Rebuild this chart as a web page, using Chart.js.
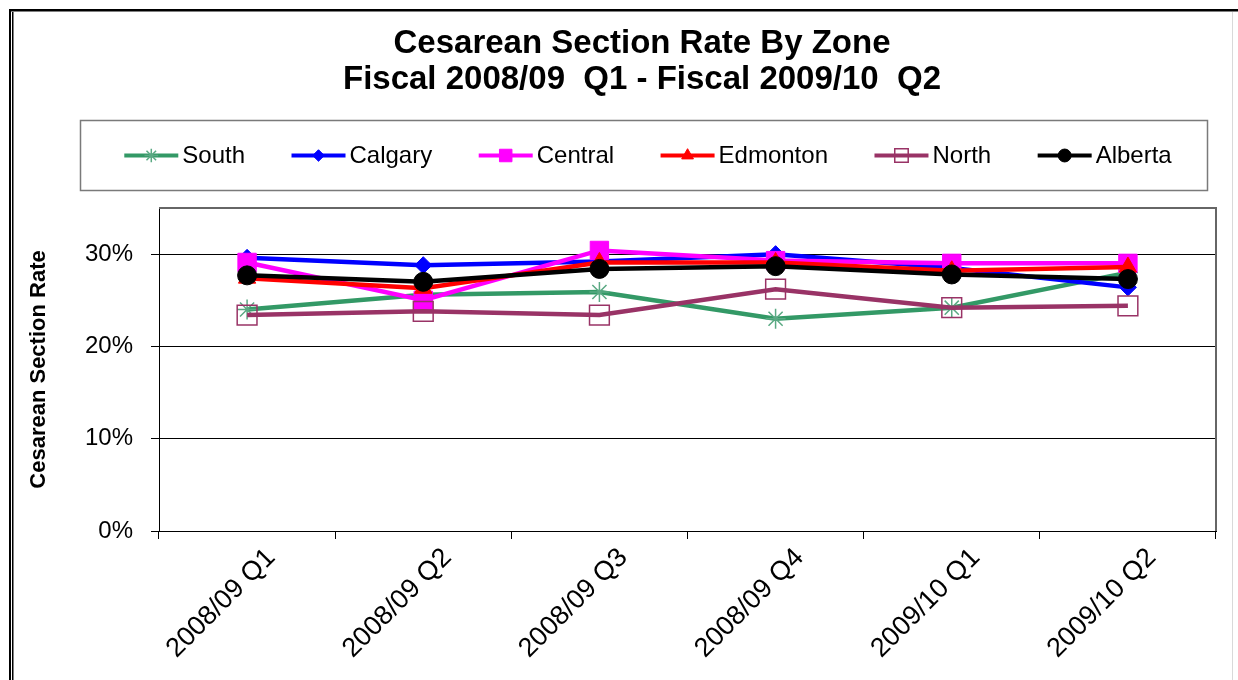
<!DOCTYPE html>
<html>
<head>
<meta charset="utf-8">
<title>Cesarean Section Rate By Zone</title>
<script src="https://cdn.jsdelivr.net/npm/chart.js@4/dist/chart.umd.min.js"></script>
<style>
  html, body { margin: 0; padding: 0; background: #fff; }
  #wrap { position: relative; width: 1238px; height: 680px; }
</style>
</head>
<body>
<div id="wrap"><canvas id="chart" width="1238" height="680"></canvas></div>
<script>
// Fiscal quarters on the category axis
const quarters = ['2008/09 Q1', '2008/09 Q2', '2008/09 Q3', '2008/09 Q4', '2009/10 Q1', '2009/10 Q2'];

// Cesarean section rate (%) per zone and quarter
const south    = [24.0, 25.6, 25.9, 23.0, 24.2, 28.0];
const calgary  = [29.6, 28.8, 29.2, 30.0, 28.5, 26.4];
const central  = [29.1, 25.0, 30.4, 29.3, 29.0, 29.0];
const edmonton = [27.4, 26.3, 29.1, 29.1, 28.2, 28.6];
const north    = [23.4, 23.8, 23.4, 26.2, 24.2, 24.4];
const alberta  = [27.7, 27.0, 28.4, 28.7, 27.8, 27.3];

// Value-axis tick positions (%)
const yTickValues = [0, 10, 20, 30];

const titleLines = ['Cesarean Section Rate By Zone', 'Fiscal 2008/09  Q1 - Fiscal 2009/10  Q2'];
const FAMILY = "'Liberation Sans', Arial, Helvetica, sans-serif";

function series(label, data, color, style, radius, extra) {
  return Object.assign({
    label, data,
    borderColor: color,
    backgroundColor: color,
    borderWidth: 4.5,
    pointStyle: style,
    pointRadius: radius,
    pointHoverRadius: radius,
    pointBackgroundColor: color,
    pointBorderColor: color,
    pointBorderWidth: 1,
    tension: 0,
    fill: false
  }, extra || {});
}

const datasets = [
  series('South', south, '#339966', 'star', 10, { pointBorderColor: '#5aa983', pointBorderWidth: 1.5, order: 6 }),
  series('Calgary', calgary, '#0000ff', 'rectRot', 8.5, { order: 5 }),
  series('Central', central, '#ff00ff', 'rect', 13, { order: 4 }),
  series('Edmonton', edmonton, '#ff0000', 'triangle', 10, { order: 3 }),
  series('North', north, '#993366', 'rect', 14, { pointBackgroundColor: 'rgba(0,0,0,0)', pointBorderWidth: 1.5, order: 2 }),
  series('Alberta', alberta, '#000000', 'circle', 9.5, { order: 1 })
];

// White page with the outer frame
const framePlugin = {
  id: 'frame',
  beforeDraw(chart) {
    const ctx = chart.ctx;
    ctx.save();
    ctx.fillStyle = '#fff';
    ctx.fillRect(0, 0, chart.width, chart.height);
    ctx.fillStyle = '#000';
    ctx.fillRect(9, 9, chart.width - 9, 2.5);     // top rule
    ctx.fillRect(9, 9, 2, chart.height - 9);       // outer left rule
    ctx.fillRect(12, 12, 1.5, chart.height - 12);  // inner left rule
    ctx.fillStyle = '#d9d9d9';
    ctx.fillRect(1232, 12, 1, chart.height - 12);  // right edge
    ctx.restore();
  }
};

// Grey border on the open sides of the plot area
const plotBorderPlugin = {
  id: 'plotBorder',
  beforeDatasetsDraw(chart) {
    const { ctx, chartArea: a } = chart;
    ctx.save();
    ctx.strokeStyle = '#666';
    ctx.lineWidth = 2;
    ctx.beginPath();
    ctx.moveTo(a.left, a.top);
    ctx.lineTo(a.right, a.top);
    ctx.lineTo(a.right, a.bottom);
    ctx.stroke();
    ctx.restore();
  }
};

// Two-line heading
const headingPlugin = {
  id: 'heading',
  afterDraw(chart) {
    const ctx = chart.ctx;
    ctx.save();
    ctx.fillStyle = '#000';
    ctx.font = `bold 33px ${FAMILY}`;
    ctx.textAlign = 'center';
    ctx.textBaseline = 'middle';
    titleLines.forEach((t, i) => ctx.fillText(t, 642, 44 + i * 36));
    ctx.restore();
  }
};

// Boxed legend with line + marker samples
const legendPlugin = {
  id: 'zoneLegend',
  afterDraw(chart) {
    const ctx = chart.ctx;
    const box = { x: 80.5, y: 120.5, w: 1127, h: 70 };
    ctx.save();
    ctx.strokeStyle = '#7a7a7a';
    ctx.lineWidth = 1.5;
    ctx.strokeRect(box.x, box.y, box.w, box.h);
    ctx.font = `24px ${FAMILY}`;
    const sample = 54, textGap = 4, itemGap = 46.5;
    const items = chart.data.datasets.map(ds => ({ ds, w: sample + textGap + ctx.measureText(ds.label).width }));
    const total = items.reduce((s, it) => s + it.w, 0) + itemGap * (items.length - 1);
    let x = box.x + (box.w - total) / 2 + 4;
    const cy = box.y + box.h / 2;
    items.forEach(({ ds, w }) => {
      ctx.strokeStyle = ds.borderColor;
      ctx.lineWidth = 4;
      ctx.beginPath();
      ctx.moveTo(x, cy);
      ctx.lineTo(x + sample, cy);
      ctx.stroke();
      ctx.fillStyle = ds.pointBackgroundColor;
      ctx.strokeStyle = ds.pointBorderColor;
      ctx.lineWidth = ds.pointBorderWidth;
      Chart.helpers.drawPoint(ctx, {
        pointStyle: ds.pointStyle, rotation: 0,
        radius: ds.pointRadius * 0.68, borderWidth: ds.pointBorderWidth
      }, x + sample / 2, cy);
      ctx.fillStyle = '#000';
      ctx.textAlign = 'left';
      ctx.textBaseline = 'middle';
      ctx.fillText(ds.label, x + sample + textGap, cy + 1);
      x += w + itemGap;
    });
    ctx.restore();
  }
};

new Chart(document.getElementById('chart'), {
  type: 'line',
  data: { labels: quarters, datasets },
  plugins: [framePlugin, plotBorderPlugin, headingPlugin, legendPlugin],
  options: {
    responsive: false,
    animation: false,
    devicePixelRatio: 1,
    layout: { padding: { top: 208, right: 22, left: 0, bottom: 0 } },
    plugins: {
      legend: { display: false },
      title: { display: false },
      tooltip: { enabled: false }
    },
    scales: {
      x: {
        type: 'category',
        offset: true,
        grid: { offset: true, drawOnChartArea: false, drawTicks: true, tickLength: 8, color: '#000', lineWidth: 1 },
        border: { display: true, color: '#000', width: 1 },
        ticks: {
          autoSkip: false, maxRotation: 45, minRotation: 45,
          padding: 3, labelOffset: 24,
          color: '#000', font: { family: FAMILY, size: 27 }
        },
        afterFit(s) { s.height = 149; s.paddingLeft = 0; s.paddingRight = 0; }
      },
      y: {
        min: 0, max: 35,
        afterBuildTicks(s) { s.ticks = yTickValues.map(v => ({ value: v })); },
        grid: { color: '#000', lineWidth: 1, drawTicks: true, tickLength: 8 },
        border: { display: true, color: '#000', width: 1 },
        ticks: {
          padding: 18, color: '#000',
          font: { family: FAMILY, size: 24 },
          callback: v => v + '%'
        },
        title: {
          display: true, text: 'Cesarean Section Rate', color: '#000',
          font: { family: FAMILY, size: 22, weight: 'bold' },
          padding: { top: 26, bottom: 0 }
        },
        afterFit(s) { s.width = 159; s.paddingTop = 0; s.paddingBottom = 0; }
      }
    }
  }
});
</script>
</body>
</html>
